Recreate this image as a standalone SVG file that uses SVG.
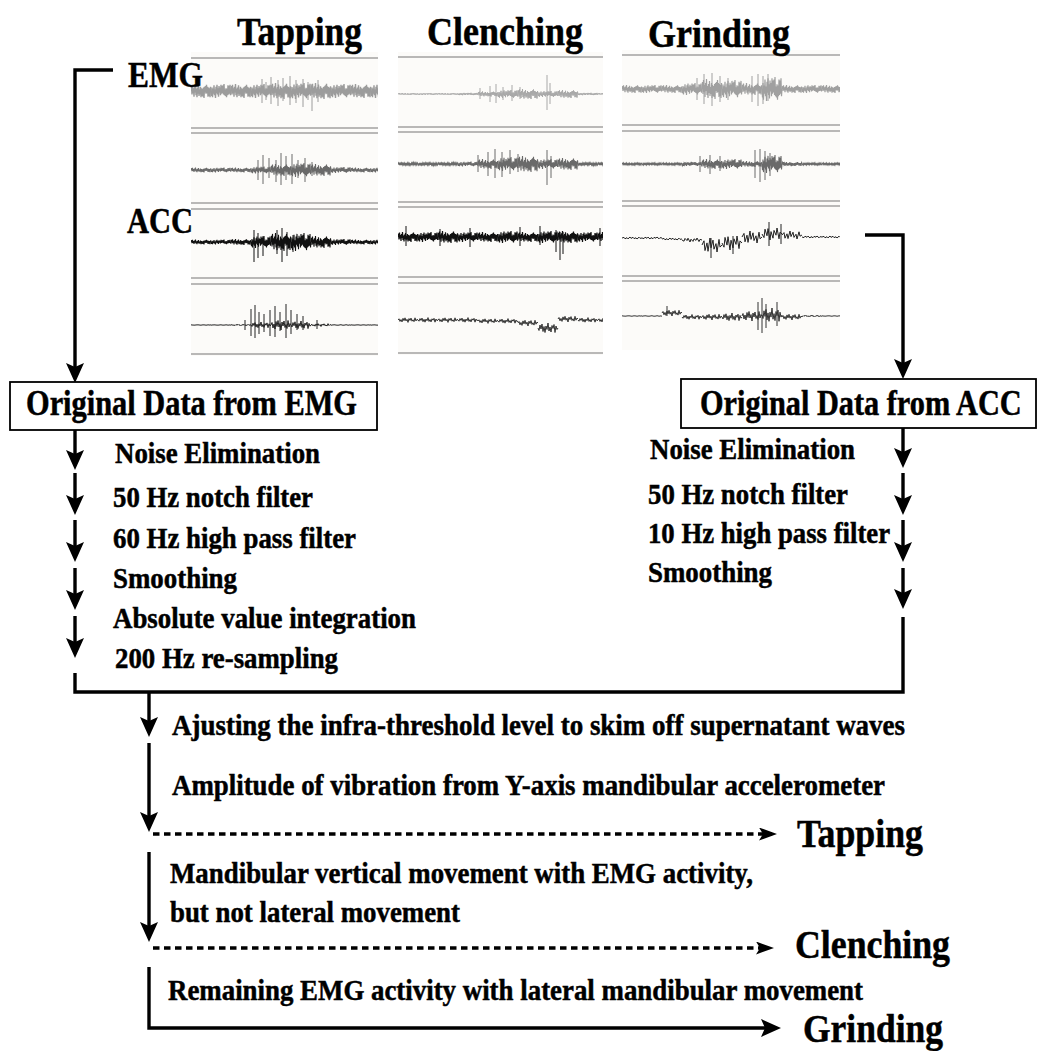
<svg xmlns="http://www.w3.org/2000/svg" xmlns:xlink="http://www.w3.org/1999/xlink" width="1038" height="1051" viewBox="0 0 1038 1051">
<style>
.t{font-family:"Liberation Serif","Times New Roman",serif;font-weight:bold;fill:#000;stroke:#000;stroke-width:0.5}
.title{font-size:41px}
.lab{font-size:36px}
.lbl{font-size:30px}
.bt{font-size:35px}
.out{font-size:40px}
.ln{fill:none;stroke:#000;stroke-width:3.4}
.dash{fill:none;stroke:#000;stroke-width:3.5;stroke-dasharray:6.5 4.5}
.box{fill:#fff;stroke:#000;stroke-width:1.8}
.pl{stroke:#777;stroke-width:1.2;fill:none}
.bg{fill:#fcfbf9}
.sp{fill:none;stroke-width:1}
</style>
<defs>
<marker id="ah" viewBox="0 0 20 18" refX="15" refY="9" markerWidth="20" markerHeight="18" orient="auto" markerUnits="userSpaceOnUse"><path d="M0,0 L20,9 L0,18 L4,9 z" fill="#000" stroke="none"/></marker>
<marker id="ahs" viewBox="0 0 18 13" refX="13" refY="6.5" markerWidth="18" markerHeight="13" orient="auto" markerUnits="userSpaceOnUse"><path d="M0,0 L18,6.5 L0,13 L4,6.5 z" fill="#000" stroke="none"/></marker>
<path id="z" fill="none" vector-effect="non-scaling-stroke" d="M0,0 .5,-.7 1,.5 1.5,-.9 2,.3 2.5,-.4 3,.8 3.5,-.6 4,.2 4.5,-1 5,.6 5.5,-.3 6,.9 6.5,-.5 7,.4 7.5,-.8 8,.7 8.5,-.2 9,.5 9.5,-.6 10,.9 10.5,-.4 11,.7 11.5,-.3 12,.8 12.5,-.5 13,1 13.5,-.6 14,.2 14.5,-.7 15,.4 15.5,-.9 16,.3 16.5,-.6 17,.8 17.5,-.5 18,.7 18.5,-.4 19,.9 19.5,-.6 20,0"/>
<path id="w" fill="none" vector-effect="non-scaling-stroke" d="M0,0 1,-.5 2,.6 3,-.2 4,.8 5,-.7 6,.3 7,-.9 8,.4 9,-.3 10,1 11,-.6 12,.2 13,-.8 14,.5 15,-.1 16,.7 17,-.9 18,.4 19,-.3 20,0"/>
<path id="l" fill="none" vector-effect="non-scaling-stroke" d="M0,0 2,-.6 3,.8 5,-.3 6,.9 8,-1 9,.4 11,-.7 12,.6 14,-.2 15,1 17,-.8 18,.3 20,0"/>
<clipPath id="c1"><rect x="191" y="52" width="187" height="304"/></clipPath>
<clipPath id="c2"><rect x="398" y="52" width="205" height="303"/></clipPath>
<clipPath id="c3"><rect x="622" y="50" width="218" height="300"/></clipPath>
</defs>
<rect width="1038" height="1051" fill="#fff"/>

<g id="panel-tapping">
<rect class="bg" x="191" y="52" width="187" height="304"/>
<path class="pl" d="M191,58H378M191,128H378M191,133H378M191,203H378M191,209H378M191,278H378M191,284H378M191,354H378"/>
<g clip-path="url(#c1)">
<g stroke="#9c9c9c" stroke-width="1.4" transform="translate(191,91)">
<use href="#z" transform="translate(0,0) scale(1,7)"/><use href="#z" transform="translate(20,0) scale(1,-7)"/><use href="#z" transform="translate(40,0) scale(1,7)"/><use href="#z" transform="translate(60,0) scale(1,-7)"/><use href="#z" transform="translate(80,0) scale(1,8)"/><use href="#z" transform="translate(100,0) scale(1,-8)"/><use href="#z" transform="translate(120,0) scale(1,8)"/><use href="#z" transform="translate(140,0) scale(1,-7)"/><use href="#z" transform="translate(160,0) scale(1,7)"/><use href="#z" transform="translate(180,0) scale(1,-7)"/>
</g>
<path class="sp" stroke="#9c9c9c" d="M262,79V103M266,82V100M271,77V104M278,80V106M283,78V101M290,76V105M296,80V103M303,79V107M308,82V100M312,84V111M318,80V102"/>
<g stroke="#6a6a6a" stroke-width="1.1" transform="translate(191,170)">
<use href="#z" transform="translate(0,0) scale(1,2.5)"/><use href="#z" transform="translate(20,0) scale(1,-2.5)"/><use href="#z" transform="translate(40,0) scale(1,2.5)"/><use href="#z" transform="translate(60,0) scale(1,-3.5)"/><use href="#z" transform="translate(80,0) scale(1,6)"/><use href="#z" transform="translate(100,0) scale(1,-7)"/><use href="#z" transform="translate(120,0) scale(1,6)"/><use href="#z" transform="translate(140,0) scale(1,-3)"/><use href="#z" transform="translate(160,0) scale(1,2.5)"/><use href="#z" transform="translate(180,0) scale(1,-2.5)"/>
</g>
<path class="sp" stroke="#6a6a6a" d="M258,160V180M263,155V184M269,158V178M276,160V182M281,153V185M286,156V180M292,154V184M298,160V178M305,158V182M312,162V176"/>
<g stroke="#111" stroke-width="1.1" transform="translate(191,242)">
<use href="#z" transform="translate(0,0) scale(1,2.5)"/><use href="#z" transform="translate(20,0) scale(1,-2.5)"/><use href="#z" transform="translate(40,0) scale(1,3)"/><use href="#z" transform="translate(60,0) scale(1,-6)"/><use href="#z" transform="translate(80,0) scale(1,9)"/><use href="#z" transform="translate(100,0) scale(1,-9)"/><use href="#z" transform="translate(120,0) scale(1,6)"/><use href="#z" transform="translate(140,0) scale(1,-3)"/><use href="#z" transform="translate(160,0) scale(1,2.5)"/><use href="#z" transform="translate(180,0) scale(1,-2.5)"/>
</g>
<path class="sp" stroke="#111" d="M254,230V262M258,233V258M263,236V256M277,230V254M282,228V262M287,232V256M293,235V252"/>
<g stroke="#222" stroke-width="1" transform="translate(191,325)">
<use href="#w" transform="translate(0,0) scale(1,0.4)"/><use href="#w" transform="translate(20,0) scale(1,-0.4)"/><use href="#w" transform="translate(40,0) scale(1,0.8)"/><use href="#w" transform="translate(60,0) scale(1,-3)"/><use href="#w" transform="translate(80,0) scale(1,5)"/><use href="#w" transform="translate(100,0) scale(1,-4)"/><use href="#w" transform="translate(120,0) scale(1,1.5)"/><use href="#w" transform="translate(140,0) scale(1,-0.6)"/><use href="#w" transform="translate(160,0) scale(1,0.4)"/><use href="#w" transform="translate(180,0) scale(1,-0.4)"/>
</g>
<path class="sp" stroke="#222" d="M245,320V330M251,309V336M255,305V338M259,312V334M264,314V332M270,310V336M275,306V337M280,312V331M286,304V338M291,310V334M297,314V330M303,316V330M317,320V329"/>
</g>
</g>

<g id="panel-clenching">
<rect class="bg" x="398" y="52" width="205" height="303"/>
<path class="pl" d="M398,57H603M398,127H603M398,132H603M398,202H603M398,207H603M398,277H603M398,283H603M398,353H603"/>
<g clip-path="url(#c2)">
<g stroke="#a8a8a8" stroke-width="1" transform="translate(398,94)">
<use href="#z" transform="translate(0,0) scale(1,0.8)"/><use href="#z" transform="translate(20,0) scale(1,-0.8)"/><use href="#z" transform="translate(40,0) scale(1,0.8)"/><use href="#z" transform="translate(60,0) scale(1,-1.2)"/><use href="#z" transform="translate(80,0) scale(1,2.5)"/><use href="#z" transform="translate(100,0) scale(1,-4)"/><use href="#z" transform="translate(120,0) scale(1,5)"/><use href="#z" transform="translate(140,0) scale(1,-3)"/><use href="#z" transform="translate(160,0) scale(1,4)"/><use href="#z" transform="translate(180,0) scale(1,-1.2)"/><use href="#z" transform="translate(200,0) scale(1,0.8)"/>
</g>
<path class="sp" stroke="#a8a8a8" d="M480,88V99M490,86V102M496,84V103M503,87V100M512,85V101M520,87V99M547,75V110M550,83V104"/>
<g stroke="#6a6a6a" stroke-width="1.1" transform="translate(398,164)">
<use href="#z" transform="translate(0,0) scale(1,1.5)"/><use href="#z" transform="translate(20,0) scale(1,-1.5)"/><use href="#z" transform="translate(40,0) scale(1,1.5)"/><use href="#z" transform="translate(60,0) scale(1,-2.5)"/><use href="#z" transform="translate(80,0) scale(1,5)"/><use href="#z" transform="translate(100,0) scale(1,-7)"/><use href="#z" transform="translate(120,0) scale(1,8)"/><use href="#z" transform="translate(140,0) scale(1,-5)"/><use href="#z" transform="translate(160,0) scale(1,6)"/><use href="#z" transform="translate(180,0) scale(1,-1.5)"/><use href="#z" transform="translate(200,0) scale(1,1.5)"/>
</g>
<path class="sp" stroke="#6a6a6a" d="M478,155V172M488,152V176M495,149V178M502,152V177M510,150V174M518,154V172M547,150V185M551,156V178"/>
<g stroke="#111" stroke-width="1.2" transform="translate(398,237)">
<use href="#z" transform="translate(0,0) scale(1,5)"/><use href="#z" transform="translate(20,0) scale(1,-5)"/><use href="#z" transform="translate(40,0) scale(1,6)"/><use href="#z" transform="translate(60,0) scale(1,-5)"/><use href="#z" transform="translate(80,0) scale(1,5)"/><use href="#z" transform="translate(100,0) scale(1,-6)"/><use href="#z" transform="translate(120,0) scale(1,5)"/><use href="#z" transform="translate(140,0) scale(1,-6)"/><use href="#z" transform="translate(160,0) scale(1,6)"/><use href="#z" transform="translate(180,0) scale(1,-5)"/><use href="#z" transform="translate(200,0) scale(1,5)"/>
</g>
<path class="sp" stroke="#111" d="M406,226V246M440,229V246M470,228V247M520,227V246M540,226V245M556,230V252M560,232V260M563,232V254M600,228V246"/>
<g stroke="#333" stroke-width="1" transform="translate(398,320)">
<use href="#w" transform="translate(0,0) scale(1,2.4)"/><use href="#w" transform="translate(20,0) scale(1,-2.4)"/><use href="#w" transform="translate(40,0) scale(1,2.4)"/><use href="#w" transform="translate(60,0) scale(1,-2.4)"/><use href="#w" transform="translate(80,1) scale(1,2.4)"/><use href="#w" transform="translate(100,1) scale(1,-2.4)"/><use href="#w" transform="translate(120,3) scale(1,3)"/><use href="#w" transform="translate(140,8) scale(1,-5)"/><use href="#w" transform="translate(160,-1) scale(1,3)"/><use href="#w" transform="translate(180,0) scale(1,-2.4)"/><use href="#w" transform="translate(200,0) scale(1,2.4)"/>
</g>
</g>
</g>

<g id="panel-grinding">
<rect class="bg" x="622" y="50" width="218" height="300"/>
<path class="pl" d="M622,55H840M622,125H840M622,131H840M622,201H840M622,206H840M622,276H840M622,281H840"/>
<g clip-path="url(#c3)">
<g stroke="#a0a0a0" stroke-width="1.2" transform="translate(622,89)">
<use href="#z" transform="translate(0,0) scale(1,4)"/><use href="#z" transform="translate(20,0) scale(1,-4)"/><use href="#z" transform="translate(40,0) scale(1,4)"/><use href="#z" transform="translate(60,0) scale(1,-6)"/><use href="#z" transform="translate(80,0) scale(1,10)"/><use href="#z" transform="translate(100,0) scale(1,-9)"/><use href="#z" transform="translate(120,0) scale(1,6)"/><use href="#z" transform="translate(140,0) scale(1,-12)"/><use href="#z" transform="translate(160,0) scale(1,4)"/><use href="#z" transform="translate(180,0) scale(1,-4)"/><use href="#z" transform="translate(200,0) scale(1,4)"/>
</g>
<path class="sp" stroke="#a0a0a0" d="M697,78V100M704,74V104M712,73V106M720,76V102M728,78V100M752,76V102M758,74V106M763,76V104M768,74V101"/>
<g stroke="#6a6a6a" stroke-width="1.1" transform="translate(622,164)">
<use href="#z" transform="translate(0,0) scale(1,1)"/><use href="#z" transform="translate(20,0) scale(1,-1)"/><use href="#z" transform="translate(40,0) scale(1,1)"/><use href="#z" transform="translate(60,0) scale(1,-2)"/><use href="#z" transform="translate(80,0) scale(1,5)"/><use href="#z" transform="translate(100,0) scale(1,-5)"/><use href="#z" transform="translate(120,0) scale(1,3)"/><use href="#z" transform="translate(140,0) scale(1,-9)"/><use href="#z" transform="translate(160,0) scale(1,2)"/><use href="#z" transform="translate(180,0) scale(1,-1)"/><use href="#z" transform="translate(200,0) scale(1,1)"/>
</g>
<path class="sp" stroke="#6a6a6a" d="M700,156V172M710,155V174M720,156V171M755,150V178M760,149V182M765,151V180M770,153V176"/>
<g stroke="#222" stroke-width="1" transform="translate(622,237)">
<use href="#l" transform="translate(0,1) scale(1,1)"/><use href="#l" transform="translate(20,1) scale(1,-1)"/><use href="#l" transform="translate(40,2) scale(1,1)"/><use href="#l" transform="translate(60,3) scale(1,-2)"/><use href="#l" transform="translate(80,8) scale(1,7)"/><use href="#l" transform="translate(100,6) scale(1,-7)"/><use href="#l" transform="translate(120,0) scale(1,6)"/><use href="#l" transform="translate(140,-3) scale(1,-6)"/><use href="#l" transform="translate(160,-2) scale(1,4)"/><use href="#l" transform="translate(180,0) scale(1,-1)"/><use href="#l" transform="translate(200,0) scale(1,1)"/>
</g>
<path class="sp" stroke="#222" d="M711,238V258M733,236V254M769,222V246M781,224V244"/>
<g stroke="#333" stroke-width="1" transform="translate(622,317)">
<use href="#w" transform="translate(0,-1) scale(1,0.5)"/><use href="#w" transform="translate(20,-1) scale(1,-0.6)"/><use href="#w" transform="translate(40,-4) scale(1,3)"/><use href="#w" transform="translate(60,0) scale(1,-2.5)"/><use href="#w" transform="translate(80,0) scale(1,3)"/><use href="#w" transform="translate(100,0) scale(1,-4)"/><use href="#w" transform="translate(120,-1) scale(1,5)"/><use href="#w" transform="translate(140,-2) scale(1,-7)"/><use href="#w" transform="translate(160,0) scale(1,3)"/><use href="#w" transform="translate(180,-1) scale(1,-1)"/><use href="#w" transform="translate(200,-1) scale(1,0.5)"/>
</g>
<path class="sp" stroke="#333" d="M667,306V316M758,302V330M762,298V333M766,304V328M777,302V326"/>
</g>
</g>

<g id="titles">
<text class="t title" x="237" y="45" textLength="125" lengthAdjust="spacingAndGlyphs">Tapping</text>
<text class="t title" x="427" y="45" textLength="156" lengthAdjust="spacingAndGlyphs">Clenching</text>
<text class="t title" x="648" y="47" textLength="142" lengthAdjust="spacingAndGlyphs">Grinding</text>
<text class="t lab" x="128" y="87" textLength="75" lengthAdjust="spacingAndGlyphs">EMG</text>
<text class="t lab" x="127" y="233" textLength="66" lengthAdjust="spacingAndGlyphs">ACC</text>
</g>

<g id="connectors">
<path class="ln" marker-end="url(#ah)" d="M113,70H75V378"/>
<path class="ln" marker-end="url(#ah)" d="M75,430V465"/>
<path class="ln" marker-end="url(#ah)" d="M75,473V510"/>
<path class="ln" marker-end="url(#ah)" d="M75,520V557"/>
<path class="ln" marker-end="url(#ah)" d="M75,568V605"/>
<path class="ln" marker-end="url(#ah)" d="M75,616V653"/>
<path class="ln" d="M75,673V692H903V617"/>
<path class="ln" marker-end="url(#ah)" d="M865,235H903V374"/>
<path class="ln" marker-end="url(#ah)" d="M903,428V463"/>
<path class="ln" marker-end="url(#ah)" d="M903,473V510"/>
<path class="ln" marker-end="url(#ah)" d="M903,520V557"/>
<path class="ln" marker-end="url(#ah)" d="M903,568V604"/>
<path class="ln" marker-end="url(#ah)" d="M149,692V732"/>
<path class="ln" marker-end="url(#ah)" d="M149,743V827"/>
<path class="dash" marker-end="url(#ahs)" d="M153,834H772"/>
<path class="ln" marker-end="url(#ah)" d="M149,852V937"/>
<path class="dash" marker-end="url(#ahs)" d="M153,948H769"/>
<path class="ln" marker-end="url(#ah)" d="M149,967V1028H776"/>
</g>

<g id="node-emg">
<rect class="box" x="10" y="382" width="367" height="48"/>
<text class="t bt" x="26" y="415" textLength="331" lengthAdjust="spacingAndGlyphs">Original Data from EMG</text>
</g>
<g id="node-acc">
<rect class="box" x="681" y="379" width="355" height="49"/>
<text class="t bt" transform="translate(700,415) scale(0.86,1)" x="0" y="0" textLength="374" lengthAdjust="spacingAndGlyphs">Original Data from ACC</text>
</g>

<g id="steps-emg">
<text class="t lbl" x="115" y="463" textLength="205" lengthAdjust="spacingAndGlyphs">Noise Elimination</text>
<text class="t lbl" x="113" y="507" textLength="200" lengthAdjust="spacingAndGlyphs">50 Hz notch filter</text>
<text class="t lbl" x="113" y="548" textLength="243" lengthAdjust="spacingAndGlyphs">60 Hz high pass filter</text>
<text class="t lbl" x="113" y="588" textLength="124" lengthAdjust="spacingAndGlyphs">Smoothing</text>
<text class="t lbl" x="113" y="628" textLength="303" lengthAdjust="spacingAndGlyphs">Absolute value integration</text>
<text class="t lbl" x="115" y="668" textLength="223" lengthAdjust="spacingAndGlyphs">200 Hz re-sampling</text>
</g>
<g id="steps-acc">
<text class="t lbl" x="650" y="459" textLength="205" lengthAdjust="spacingAndGlyphs">Noise Elimination</text>
<text class="t lbl" x="648" y="504" textLength="200" lengthAdjust="spacingAndGlyphs">50 Hz notch filter</text>
<text class="t lbl" x="648" y="543" textLength="242" lengthAdjust="spacingAndGlyphs">10 Hz high pass filter</text>
<text class="t lbl" x="648" y="582" textLength="124" lengthAdjust="spacingAndGlyphs">Smoothing</text>
</g>
<g id="steps-classify">
<text class="t lbl" x="172" y="735" textLength="733" lengthAdjust="spacingAndGlyphs">Ajusting the infra-threshold level to skim off supernatant waves</text>
<text class="t lbl" x="172" y="795" textLength="713" lengthAdjust="spacingAndGlyphs">Amplitude of vibration from Y-axis mandibular accelerometer</text>
<text class="t lbl" x="170" y="883" textLength="583" lengthAdjust="spacingAndGlyphs">Mandibular vertical movement with EMG activity,</text>
<text class="t lbl" x="170" y="922" textLength="290" lengthAdjust="spacingAndGlyphs">but not lateral movement</text>
<text class="t lbl" x="168" y="1000" textLength="695" lengthAdjust="spacingAndGlyphs">Remaining EMG activity with lateral mandibular movement</text>
</g>
<g id="outcomes">
<text class="t out" x="797" y="847" textLength="126" lengthAdjust="spacingAndGlyphs">Tapping</text>
<text class="t out" x="795" y="958" textLength="155" lengthAdjust="spacingAndGlyphs">Clenching</text>
<text class="t out" x="803" y="1042" textLength="140" lengthAdjust="spacingAndGlyphs">Grinding</text>
</g>
</svg>
